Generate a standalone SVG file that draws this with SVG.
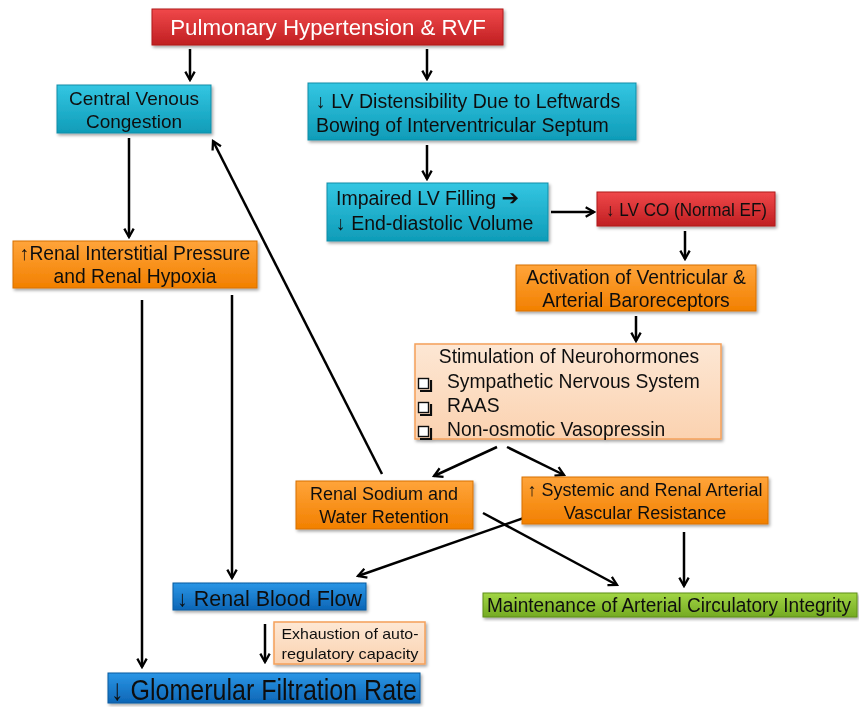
<svg xmlns="http://www.w3.org/2000/svg" width="859" height="707" viewBox="0 0 859 707">
<style>
text{font-family:"Liberation Sans",Arial,sans-serif;fill:#111;}
.t17{font-size:17px;}
.t18{font-size:18px;}
.t19{font-size:19.3px;}
.c{text-anchor:middle;}
.conn line{stroke:#000;stroke-width:2.5;fill:none;marker-end:url(#ah);}
.box{filter:url(#sh);}
.cb{fill:#fff;stroke:#111;stroke-width:1.4;}
.cbs{fill:none;stroke:#111;stroke-width:2.2;}
</style>
<defs>
<marker id="ah" viewBox="0 0 12 12" refX="10" refY="6" markerWidth="5" markerHeight="5" orient="auto" markerUnits="strokeWidth">
<path d="M2,1.5 L10,6 L2,10.5" fill="none" stroke="#000" stroke-width="2.2"/>
</marker>
<filter id="sh" x="-5%" y="-10%" width="112%" height="130%">
<feDropShadow dx="1.5" dy="2" stdDeviation="1.5" flood-color="#000" flood-opacity="0.35"/>
</filter>
<linearGradient id="gRed" x1="0" y1="0" x2="0" y2="1"><stop offset="0" stop-color="#f0484a"/><stop offset="1" stop-color="#c01f22"/></linearGradient>
<linearGradient id="gCyan" x1="0" y1="0" x2="0" y2="1"><stop offset="0" stop-color="#34c6e2"/><stop offset="1" stop-color="#0f9cb8"/></linearGradient>
<linearGradient id="gOr" x1="0" y1="0" x2="0" y2="1"><stop offset="0" stop-color="#ffa43a"/><stop offset="1" stop-color="#f28000"/></linearGradient>
<linearGradient id="gBlue" x1="0" y1="0" x2="0" y2="1"><stop offset="0" stop-color="#2a96e6"/><stop offset="1" stop-color="#0d66b6"/></linearGradient>
<linearGradient id="gGreen" x1="0" y1="0" x2="0" y2="1"><stop offset="0" stop-color="#a2d645"/><stop offset="1" stop-color="#74aa22"/></linearGradient>
<linearGradient id="gPeach" x1="0" y1="0" x2="0" y2="1"><stop offset="0" stop-color="#fde7d4"/><stop offset="1" stop-color="#fbd2b0"/></linearGradient>
</defs>
<rect width="859" height="707" fill="#fff"/>

<g class="conn">
<line x1="190" y1="49" x2="190" y2="80"/>
<line x1="427" y1="49" x2="427" y2="79"/>
<line x1="427" y1="145" x2="427" y2="179"/>
<line x1="551" y1="212" x2="594" y2="212"/>
<line x1="685" y1="231" x2="685" y2="259"/>
<line x1="636" y1="316" x2="636" y2="341"/>
<line x1="129" y1="138" x2="129" y2="237"/>
<line x1="142" y1="300" x2="142" y2="667"/>
<line x1="232" y1="295" x2="232" y2="578"/>
<line x1="497" y1="447" x2="434" y2="476"/>
<line x1="507" y1="447" x2="564" y2="475"/>
<line x1="382" y1="474" x2="213" y2="141"/>
<line x1="538" y1="513" x2="358" y2="576"/>
<line x1="483" y1="513" x2="617" y2="585"/>
<line x1="684" y1="532" x2="684" y2="586"/>
<line x1="265" y1="624" x2="265" y2="662"/>
</g>

<g id="n-ph" class="box"><rect x="152" y="9" width="351" height="36" fill="url(#gRed)" stroke="#b01a1c" stroke-width="1"/>
<text x="328" y="35" class="c" style="font-size:22.3px;fill:#fff">Pulmonary Hypertension &amp; RVF</text></g>

<g id="n-cvc" class="box"><rect x="57" y="85" width="154" height="48" fill="url(#gCyan)" stroke="#0e8ea8" stroke-width="1"/>
<text x="134" y="105" class="c" style="font-size:19px">Central Venous</text><text x="134" y="128" class="c" style="font-size:19px">Congestion</text></g>

<g id="n-lvd" class="box"><rect x="308" y="83" width="328" height="57" fill="url(#gCyan)" stroke="#0e8ea8" stroke-width="1"/>
<text x="316" y="108" style="font-size:19.5px">↓ LV Distensibility Due to Leftwards</text><text x="316" y="132" style="font-size:19.5px">Bowing of Interventricular Septum</text></g>

<g id="n-ilv" class="box"><rect x="327" y="183" width="221" height="58" fill="url(#gCyan)" stroke="#0e8ea8" stroke-width="1"/>
<text x="336" y="205" style="font-size:19.5px">Impaired LV Filling <tspan style="font-family:'DejaVu Sans',sans-serif;font-size:21px">➔</tspan></text><text x="336" y="230" style="font-size:19.5px">↓ End-diastolic Volume</text></g>

<g id="n-lvco" class="box"><rect x="597" y="192" width="178" height="34" fill="url(#gRed)" stroke="#b01a1c" stroke-width="1"/>
<text x="606" y="216" style="font-size:17.5px" textLength="161" lengthAdjust="spacingAndGlyphs">↓ LV CO (Normal EF)</text></g>

<g id="n-rip" class="box"><rect x="13" y="241" width="244" height="47" fill="url(#gOr)" stroke="#d87000" stroke-width="1"/>
<text x="135" y="260" class="t19 c">↑Renal Interstitial Pressure</text><text x="135" y="283" class="t19 c">and Renal Hypoxia</text></g>

<g id="n-act" class="box"><rect x="516" y="265" width="240" height="46" fill="url(#gOr)" stroke="#d87000" stroke-width="1"/>
<text x="636" y="284" class="t19 c">Activation of Ventricular &amp;</text><text x="636" y="307" class="t19 c">Arterial Baroreceptors</text></g>

<g id="n-stim" class="box"><rect x="415" y="344" width="306" height="95" fill="url(#gPeach)" stroke="#f5a05a" stroke-width="1.5"/>
<text x="569" y="363" class="t19 c">Stimulation of Neurohormones</text>
<path class="cbs" d="M420,391 H431 V380"/><rect class="cb" x="418.5" y="378.5" width="10" height="10"/>
<path class="cbs" d="M420,415 H431 V404"/><rect class="cb" x="418.5" y="402.5" width="10" height="10"/>
<path class="cbs" d="M420,439 H431 V428"/><rect class="cb" x="418.5" y="426.5" width="10" height="10"/>
<text x="447" y="388" class="t19">Sympathetic Nervous System</text>
<text x="447" y="412" class="t19">RAAS</text>
<text x="447" y="436" class="t19">Non-osmotic Vasopressin</text></g>

<g id="n-rsw" class="box"><rect x="296" y="481" width="177" height="48" fill="url(#gOr)" stroke="#d87000" stroke-width="1"/>
<text x="384" y="500" class="t18 c">Renal Sodium and</text><text x="384" y="523" class="t18 c">Water Retention</text></g>

<g id="n-svr" class="box"><rect x="522" y="477" width="246" height="47" fill="url(#gOr)" stroke="#d87000" stroke-width="1"/>
<text x="645" y="496" class="t18 c">↑ Systemic and Renal Arterial</text><text x="645" y="519" class="t18 c">Vascular Resistance</text></g>

<g id="n-rbf" class="box"><rect x="173" y="583" width="193" height="27" fill="url(#gBlue)" stroke="#0a5aa0" stroke-width="1"/>
<text x="177" y="606" style="font-size:22px" textLength="185" lengthAdjust="spacingAndGlyphs">↓ Renal  Blood  Flow</text></g>

<g id="n-maint" class="box"><rect x="483" y="593" width="374" height="24" fill="url(#gGreen)" stroke="#5e8e18" stroke-width="1"/>
<text x="487" y="612" style="font-size:19.5px" textLength="364" lengthAdjust="spacingAndGlyphs">Maintenance of Arterial Circulatory Integrity</text></g>

<g id="n-exh" class="box"><rect x="274" y="622" width="151" height="42" fill="url(#gPeach)" stroke="#f5a05a" stroke-width="1.5"/>
<text x="350" y="639" class="c" style="font-size:15px" textLength="137" lengthAdjust="spacingAndGlyphs">Exhaustion of auto-</text>
<text x="350" y="659" class="c" style="font-size:15px" textLength="137" lengthAdjust="spacingAndGlyphs">regulatory capacity</text></g>

<g id="n-gfr" class="box"><rect x="108" y="673" width="312" height="30" fill="url(#gBlue)" stroke="#0a5aa0" stroke-width="1"/>
<text x="111" y="700" style="font-size:30px" textLength="306" lengthAdjust="spacingAndGlyphs">↓ Glomerular Filtration Rate</text></g>
</svg>
